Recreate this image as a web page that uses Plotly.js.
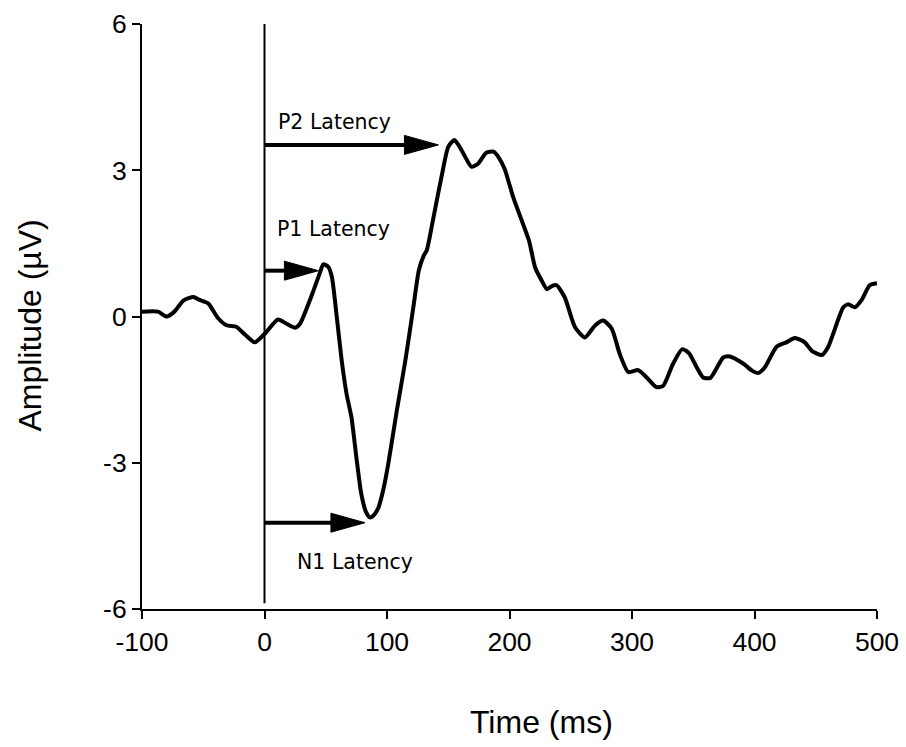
<!DOCTYPE html>
<html>
<head>
<meta charset="utf-8">
<script src="https://cdn.plot.ly/plotly-3.0.1.min.js"></script>
<style>html,body{margin:0;padding:0;background:#fff;}#chart{width:906px;height:747px;}</style>
</head>
<body>
<div id="chart"></div>
<script>
// ERP waveform: time (ms) and amplitude (µV)
const timeMs = [-100, -87, -80, -74, -66, -58, -53, -46, -38, -31, -23, -16, -8, 0, 11, 18, 25, 29, 38.5, 45, 48, 52, 55, 59, 63, 67, 71, 75, 79, 83, 86, 89, 93, 97, 101, 108, 115, 121.5, 126, 130, 132.5, 138, 145, 150, 155, 160, 165, 169, 174.5, 181, 187, 191, 196, 203, 211, 216, 221, 226, 230.5, 235, 238.5, 245, 253.5, 261.5, 270, 276.5, 283.5, 290, 297, 305, 312, 320, 325.5, 333.5, 341, 346.5, 353, 358, 364, 374.5, 380, 391, 398, 403, 408.5, 418, 426, 433, 441, 447, 455, 460, 468.5, 472.5, 476.5, 482, 487.5, 494, 500];
const amplitude = [0.10, 0.10, 0.00, 0.09, 0.33, 0.40, 0.34, 0.27, -0.03, -0.18, -0.21, -0.37, -0.53, -0.36, -0.06, -0.15, -0.23, -0.15, 0.43, 0.88, 1.07, 1.02, 0.81, -0.01, -0.90, -1.59, -2.07, -2.89, -3.64, -4.02, -4.12, -4.08, -3.92, -3.55, -3.03, -1.93, -0.90, 0.19, 0.95, 1.25, 1.36, 2.04, 2.93, 3.48, 3.62, 3.45, 3.22, 3.07, 3.14, 3.36, 3.38, 3.27, 3.03, 2.45, 1.90, 1.55, 1.00, 0.75, 0.56, 0.63, 0.64, 0.40, -0.22, -0.43, -0.18, -0.08, -0.25, -0.77, -1.14, -1.10, -1.25, -1.45, -1.42, -0.97, -0.67, -0.75, -1.05, -1.25, -1.26, -0.84, -0.82, -0.97, -1.11, -1.16, -1.04, -0.62, -0.53, -0.44, -0.53, -0.71, -0.79, -0.63, -0.05, 0.19, 0.25, 0.19, 0.34, 0.64, 0.68];

// Latency arrows: label, arrow tip time (ms), arrow level (µV), label anchor (ms, µV)
const latencyLabels = ["P2 Latency", "P1 Latency", "N1 Latency"];
const latencyTipMs = [142, 44, 82];
const latencyLevel = [3.52, 0.94, -4.23];
const labelMs = [9.5, 8.2, 25];
const labelLevel = [4.0, 1.79, -5.03];

const stimulusOnsetMs = 0;
const onsetLineRange = [-5.88, 6.08];

const xTicks = [-100, 0, 100, 200, 300, 400, 500];
const yTicks = [-6, -3, 0, 3, 6];

const xRange = [-100, 500];
const yRange = [-6, 6];

// plot geometry (px) used to size arrowheads in data units
const plotW = 735, plotH = 585;
const pxPerMs = plotW / (xRange[1] - xRange[0]);
const pxPerUv = plotH / (yRange[1] - yRange[0]);
const headLenMs = 34 / pxPerMs;
const headHalfUv = 9.5 / pxPerUv;

const shapes = [{
  type: 'line', xref: 'x', yref: 'y',
  x0: stimulusOnsetMs, x1: stimulusOnsetMs, y0: onsetLineRange[0], y1: onsetLineRange[1],
  line: {color: '#000', width: 2}
}];
latencyTipMs.forEach((tip, i) => {
  const lv = latencyLevel[i];
  const base = tip - headLenMs;
  shapes.push({type: 'line', xref: 'x', yref: 'y', x0: stimulusOnsetMs, x1: base + 1, y0: lv, y1: lv,
    line: {color: '#000', width: 4}});
  shapes.push({type: 'path', xref: 'x', yref: 'y',
    path: `M ${base} ${lv + headHalfUv} L ${tip} ${lv} L ${base} ${lv - headHalfUv} Z`,
    fillcolor: '#000', line: {color: '#000', width: 1}});
});

const annotations = latencyLabels.map((t, i) => ({
  x: labelMs[i], y: labelLevel[i], xref: 'x', yref: 'y', text: t, showarrow: false,
  xanchor: 'left', yanchor: 'middle',
  font: {family: 'DejaVu Sans, sans-serif', size: 20.5, color: '#000'}
}));
annotations.push({
  x: 0.543, y: -0.193, xref: 'paper', yref: 'paper', text: 'Time (ms)', showarrow: false,
  xanchor: 'center', yanchor: 'middle',
  font: {family: 'Liberation Sans, Arial, sans-serif', size: 32, color: '#000'}
});
annotations.push({
  x: -0.152, y: 0.485, xref: 'paper', yref: 'paper', text: 'Amplitude (µV)', showarrow: false,
  xanchor: 'center', yanchor: 'middle', textangle: -90,
  font: {family: 'Liberation Sans, Arial, sans-serif', size: 32, color: '#000'}
});

const trace = {
  x: timeMs, y: amplitude, type: 'scatter', mode: 'lines',
  line: {color: '#000', width: 4, shape: 'spline', smoothing: 0.6},
  hoverinfo: 'skip', cliponaxis: false
};

const layout = {
  width: 906, height: 747,
  margin: {l: 142, r: 29, t: 24, b: 138, pad: 0},
  paper_bgcolor: '#fff', plot_bgcolor: '#fff',
  showlegend: false,
  font: {family: 'Liberation Sans, Arial, sans-serif', color: '#000'},
  xaxis: {
    range: xRange, tickvals: xTicks, ticktext: xTicks.map(String),
    showgrid: false, zeroline: false, showline: true, linecolor: '#000', linewidth: 2,
    ticks: 'outside', ticklen: 8, tickwidth: 2, tickcolor: '#000',
    tickfont: {size: 26.5, color: '#000'}, fixedrange: true
  },
  yaxis: {
    range: yRange, tickvals: yTicks, ticktext: yTicks.map(String),
    showgrid: false, zeroline: false, showline: true, linecolor: '#000', linewidth: 2,
    ticks: 'outside', ticklen: 8, tickwidth: 2, tickcolor: '#000',
    tickfont: {size: 26.5, color: '#000'}, fixedrange: true
  },
  shapes: shapes,
  annotations: annotations
};

Plotly.newPlot('chart', [trace], layout, {displayModeBar: false, staticPlot: true});
</script>
</body>
</html>
